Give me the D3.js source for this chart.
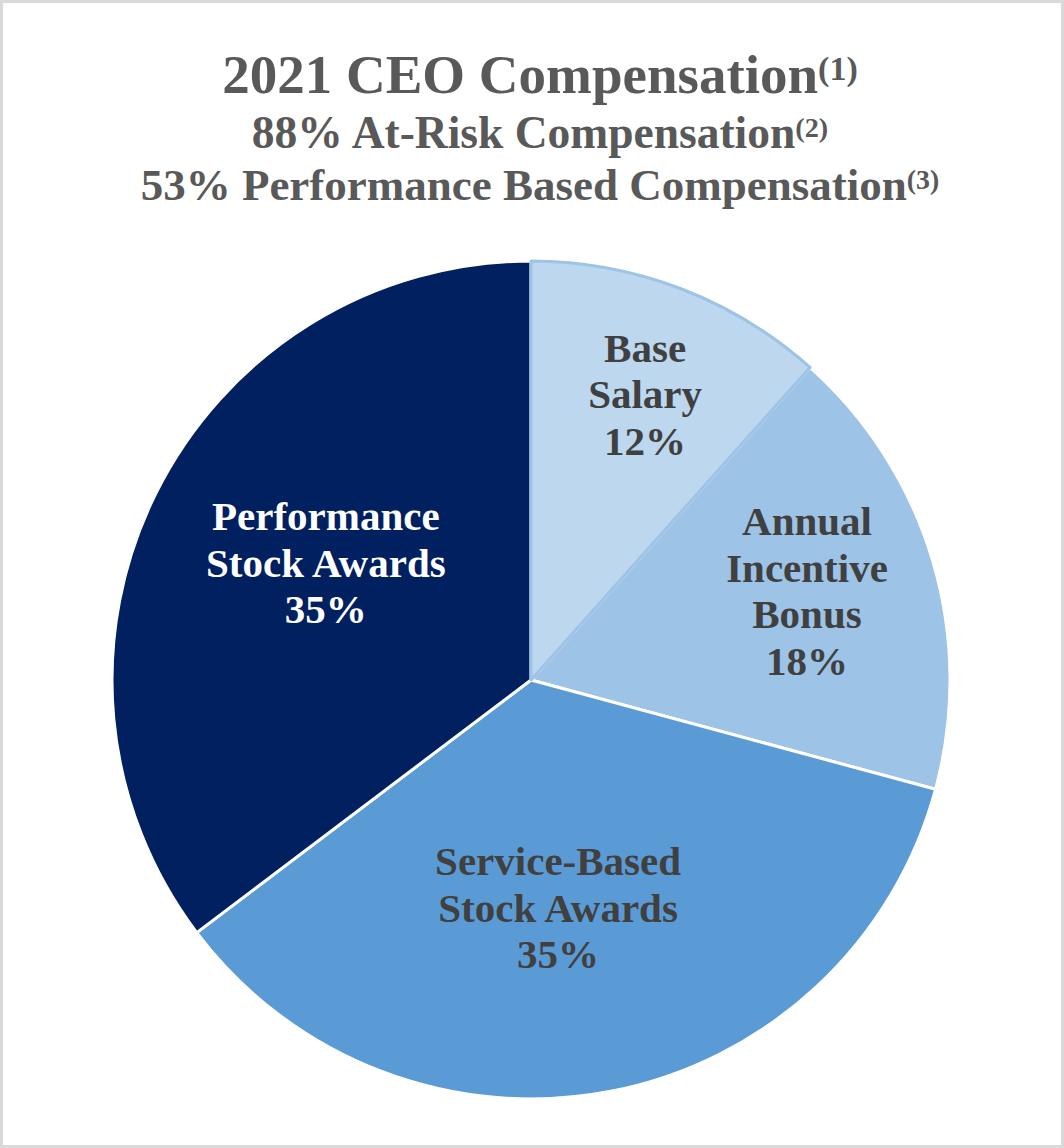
<!DOCTYPE html>
<html>
<head>
<meta charset="utf-8">
<script src="https://cdn.jsdelivr.net/npm/d3@7"></script>
<style>
	body { margin: 0; background: #fff; }
	svg { display: block; }
	text { font-family: "Liberation Serif", "Times New Roman", serif; font-weight: bold; }
</style>
</head>
<body>
<svg id="chart" width="1064" height="1148"></svg>
<script>
// slices, clockwise from 12 o'clock
var categories = ['Base Salary', 'Annual Incentive Bonus', 'Service-Based Stock Awards', 'Performance Stock Awards'];
var values = [11.6, 17.6, 35.5, 35.3];
var pctLabels = ['12%', '18%', '35%', '35%'];
var labelLines = [
	['Base', 'Salary'],
	['Annual', 'Incentive', 'Bonus'],
	['Service-Based', 'Stock Awards'],
	['Performance', 'Stock Awards']
];
var fills = ['#bdd7ee', '#9dc3e6', '#5b9bd5', '#002060'];
var labelColors = ['#404040', '#404040', '#404040', '#ffffff'];
// where Excel put each label: fraction of radius, and degrees off the slice middle
var labelRadius = [0.734, 0.692, 0.547, 0.564];
var labelShift = [0.9, -1.3, 4.2, 3.3];

var titleLines = ['2021 CEO Compensation', '88% At-Risk Compensation', '53% Performance Based Compensation'];
var titleNotes = ['(1)', '(2)', '(3)'];
var titleSizes = [55, 45.5, 45];
var titleBaselines = [93, 148, 200];

var W = 1064, H = 1148;
var cx = 531, cy = 680, R = 419;

var svg = d3.select('#chart');

svg.append('rect')
	.attr('x', 1.5)
	.attr('y', 1.5)
	.attr('width', W - 3)
	.attr('height', H - 3)
	.attr('fill', '#fff')
	.attr('stroke', '#d9d9d9')
	.attr('stroke-width', 3);

var t = svg.selectAll('.title')
	.data(titleLines)
	.enter()
	.append('text')
	.attr('class', 'title')
	.attr('x', 540)
	.attr('y', function(d, i){ return titleBaselines[i] })
	.attr('text-anchor', 'middle')
	.attr('fill', '#595959')
	.style('font-size', function(d, i){ return titleSizes[i] + 'px' });
t.append('tspan')
	.text(function(d){ return d });
t.append('tspan')
	.attr('dy', function(d, i){ return -titleSizes[i] * 0.24 })
	.style('font-size', function(d, i){ return (titleSizes[i] * 0.62) + 'px' })
	.text(function(d, i){ return titleNotes[i] });

var pie = d3.pie()
	.sort(null)
	.value(function(d){ return d });
var arcs = pie(values);

var arc = d3.arc()
	.innerRadius(0)
	.outerRadius(R);

var g = svg.append('g')
	.attr('transform', 'translate(' + cx + ',' + cy + ')');

// base salary drawn last so its blue outline sits on top
var order = [1, 2, 3, 0];
g.selectAll('.slice')
	.data(order.map(function(i){ return arcs[i] }))
	.enter()
	.append('path')
	.attr('class', 'slice')
	.attr('d', arc)
	.attr('fill', function(d){ return fills[d.index] })
	.attr('stroke', function(d){ return d.index === 0 ? '#9dc3e6' : '#ffffff' })
	.attr('stroke-width', 3)
	.attr('stroke-linejoin', 'round');

function labelPos(d){
	var a = (d.startAngle + d.endAngle) / 2 + labelShift[d.index] * Math.PI / 180;
	var r = R * labelRadius[d.index];
	return [Math.sin(a) * r, -Math.cos(a) * r];
}

var lh = 46.5;
var labels = g.selectAll('.label')
	.data(arcs)
	.enter()
	.append('text')
	.attr('class', 'label')
	.attr('text-anchor', 'middle')
	.attr('fill', function(d){ return labelColors[d.index] })
	.style('font-size', '41px')
	.attr('transform', function(d){ return 'translate(' + labelPos(d) + ')' });
labels.each(function(d){
	var lines = labelLines[d.index].concat([pctLabels[d.index]]);
	var top = -(lines.length - 1) * lh / 2 + 14;
	d3.select(this).selectAll('tspan')
		.data(lines)
		.enter()
		.append('tspan')
		.attr('x', 0)
		.attr('y', function(s, i){ return top + i * lh })
		.text(function(s){ return s });
});
</script>
</body>
</html>
